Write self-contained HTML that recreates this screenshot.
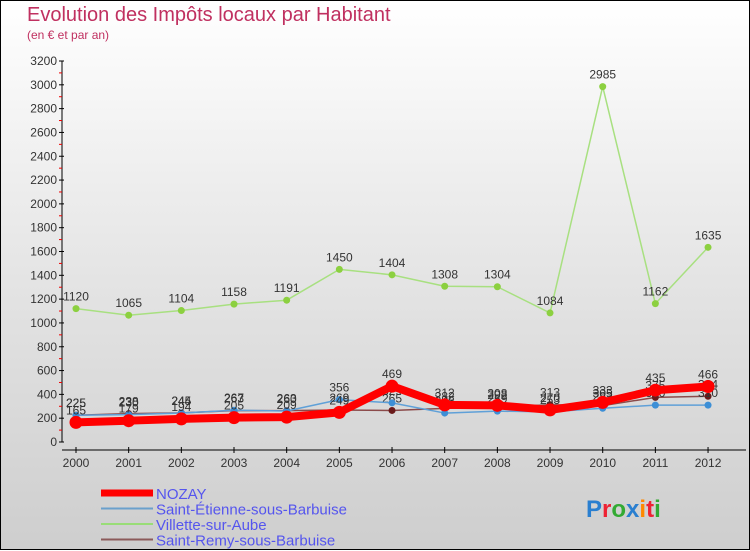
<!DOCTYPE html>
<html><head><meta charset="utf-8"><style>
body{margin:0;width:750px;height:550px;overflow:hidden}
#wrap{position:relative;width:748px;height:548px;border:1px solid #000;background:linear-gradient(#fff 0%,#e2e2e2 55%,#cecece 100%);font-family:"Liberation Sans",sans-serif}
.t{position:absolute;color:#c03060}
</style></head><body>
<div id="wrap">
<div class="t" style="left:26px;top:3px;font-size:20px">Evolution des Impôts locaux par Habitant</div>
<div class="t" style="left:26px;top:27px;font-size:12px">(en € et par an)</div>
<svg id="c" width="750" height="550" style="position:absolute;left:0;top:0"></svg>
</div>
<script>
const years=["2000","2001","2002","2003","2004","2005","2006","2007","2008","2009","2010","2011","2012"];
const nozay=[165,179,194,205,209,249,469,312,308,270,333,435,466];
const stEtienne=[225,230,244,267,260,356,329,243,259,253,283,310,310];
const villette=[1120,1065,1104,1158,1191,1450,1404,1308,1304,1084,2985,1162,1635];
const stRemy=[225,238,245,263,263,269,265,282,292,313,305,375,384];
const yTicks=[0,200,400,600,800,1000,1200,1400,1600,1800,2000,2200,2400,2600,2800,3000,3200];
const svg=document.getElementById('c');const NS='http://www.w3.org/2000/svg';
const X=i=>75+i*52.67, Y=v=>441-v*381/3200;
function mk(t,a,p){const e=document.createElementNS(NS,t);for(const k in a)e.setAttribute(k,a[k]);(p||svg).appendChild(e);return e;}
const ax=mk('line',{x1:61,y1:60,x2:61,y2:441,stroke:'#000'});


yTicks.forEach(v=>{
 mk('line',{x1:58,y1:Y(v),x2:63,y2:Y(v),stroke:'#000'});
 if(v<3200)mk('line',{x1:58,y1:Y(v+100),x2:61,y2:Y(v+100),stroke:'#e00'});
 const t=mk('text',{x:56,y:Y(v)+4,'text-anchor':'end','font-size':12,fill:'#333'});t.textContent=v;
 
 
});
const xax=mk('line',{x1:61,y1:449,x2:745,y2:449,stroke:'#000'});


years.forEach((y,i)=>{
 mk('line',{x1:X(i),y1:446,x2:X(i),y2:452,stroke:'#000'});
 const t=mk('text',{x:X(i),y:466,'text-anchor':'middle','font-size':12,fill:'#333'});t.textContent=y;
 
 
});
function series(data,color,w,r,name,dot){
 const g=mk('g',{});
 
 
 mk('polyline',{points:data.map((v,i)=>X(i)+','+Y(v)).join(' '),fill:'none',stroke:color,'stroke-width':w,'stroke-linejoin':'round'},g);
 data.forEach((v,i)=>{
  const c=mk('circle',{cx:X(i),cy:Y(v),r:r,fill:dot},g);
  
  
  const t=mk('text',{x:X(i),y:Y(v)-8,'text-anchor':'middle','font-size':12,fill:'#333'},g);t.textContent=v;
 });
}
series(stRemy,'#8b4a4a',1.5,3.5,'series-saint-remy','#6a1a1a');
series(stEtienne,'#5fa0d8',1.5,3.5,'series-saint-etienne','#3d8fd6');
series(villette,'#a8e080',1.5,3.5,'series-villette','#8cd040');
series(nozay,'#f00',8,6.5,'series-nozay','#f00');
const leg=[['NOZAY','#f00',7],['Saint-Étienne-sous-Barbuise','#6aa0cc',2],['Villette-sur-Aube','#99dd77',2],['Saint-Remy-sous-Barbuise','#8b5a5a',2]];
leg.forEach((l,i)=>{const y=492+i*15.5;
 mk('line',{x1:100,y1:y,x2:152,y2:y,stroke:l[1],'stroke-width':l[2]});
 const t=mk('text',{x:155,y:y+6,'font-size':15,fill:'#5555ee'});t.textContent=l[0];
 
 
});
const lg=mk('text',{x:585,y:516,'font-size':24,'font-weight':'bold'});


[['P','#2a7fd0'],['r','#e23'],['o','#3a3'],['x','#2a7fd0'],['i','#f80'],['t','#e23'],['i','#3a3']].forEach(p=>{const s=mk('tspan',{fill:p[1]},lg);s.textContent=p[0];});
</script>
</body></html>
